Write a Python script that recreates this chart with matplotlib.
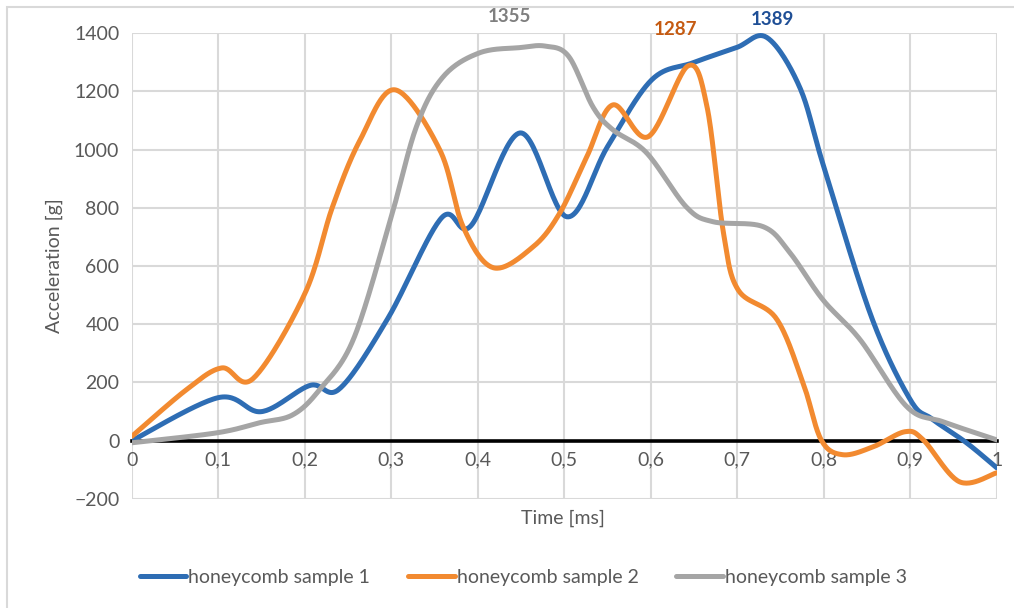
import numpy as np
import matplotlib.pyplot as plt
from matplotlib.patches import Rectangle

# (time in ms, acceleration in g)
t1 = [0, 0.1, 0.15, 0.206, 0.24, 0.296, 0.358, 0.392, 0.449, 0.503, 0.55, 0.601, 0.649,
      0.699, 0.734, 0.772, 0.8, 0.855, 0.9, 0.925, 0.965, 1.0]
a1 = [0, 148, 100, 190, 178, 420, 765, 738, 1057, 769, 1010, 1239, 1298,
      1350, 1385, 1215, 941, 426, 141, 75, -7, -93]

t2 = [0, 0.063, 0.104, 0.14, 0.2, 0.232, 0.264, 0.304, 0.356, 0.383, 0.418, 0.464,
      0.495, 0.526, 0.556, 0.597, 0.643, 0.665, 0.684, 0.701, 0.745, 0.776, 0.797,
      0.822, 0.857, 0.894, 0.915, 0.957, 1.0]
a2 = [15, 175, 250, 213, 505, 803, 1033, 1205, 999, 735, 594, 666,
      783, 975, 1153, 1044, 1287, 1147, 714, 518, 420, 199, 3,
      -48, -21, 31, 3, -141, -110]

t3 = [0, 0.098, 0.148, 0.186, 0.217, 0.256, 0.298, 0.329, 0.36, 0.402, 0.449, 0.478, 0.505,
      0.533, 0.556, 0.595, 0.641, 0.672, 0.73, 0.761, 0.799, 0.842, 0.896, 0.938, 1.0]
a3 = [-7, 27, 62, 89, 175, 347, 748, 1078, 1250, 1332, 1350, 1355, 1320,
      1147, 1068, 989, 803, 752, 735, 645, 484, 347, 117, 65, 3]

names = ['honeycomb sample 1', 'honeycomb sample 2', 'honeycomb sample 3']
colors = ['#2E6DB4', '#F28A30', '#A5A5A5']
label_colors = ['#1F4F96', '#C55A11', '#7F7F7F']
peaks = [1389, 1287, 1355]


def smooth(x, y, n=30):
    # excel style smoothed line: bezier with control points at 1/6 of neighbour span
    p = np.column_stack([x, y]).astype(float)
    p = np.vstack([p[0], p, p[-1]])
    out = []
    s = np.linspace(0, 1, n)[:, None]
    for i in range(1, len(p) - 2):
        p0, p1, p2, p3 = p[i - 1], p[i], p[i + 1], p[i + 2]
        b1 = p1 + (p2 - p0) / 6
        b2 = p2 - (p3 - p1) / 6
        seg = ((1 - s) ** 3) * p1 + 3 * ((1 - s) ** 2) * s * b1 + 3 * (1 - s) * s ** 2 * b2 + s ** 3 * p2
        out.append(seg)
    out = np.vstack(out)
    return out[:, 0], out[:, 1]


plt.rcParams['font.family'] = ['Lato', 'DejaVu Sans']

fig = plt.figure(figsize=(10.14, 6.08), dpi=100)
ax = fig.add_axes([0.130, 0.1793, 0.853, 0.7664])

fig.patches.append(Rectangle((0.007, -0.05), 1.1, 0.05 + 1 - 0.012, transform=fig.transFigure,
                             fill=False, edgecolor='#D9D9D9', linewidth=1.5))

lines = []
for t, a, c, name in zip([t1, t2, t3], [a1, a2, a3], colors, names):
    xs, ys = smooth(t, a)
    ln, = ax.plot(xs, ys, color=c, lw=3.6, label=name, solid_capstyle='round', zorder=3)
    lines.append(ln)

ax.set_xlim(0, 1)
ax.set_ylim(-200, 1400)
ax.set_xticks(np.arange(0, 1.01, 0.1))
ax.set_xticklabels(['0', '0,1', '0,2', '0,3', '0,4', '0,5', '0,6', '0,7', '0,8', '0,9', '1'])
ax.set_yticks(np.arange(-200, 1401, 200))
ax.grid(True, color='#D9D9D9', lw=1.5)
ax.set_axisbelow(True)

for s in ['top', 'left', 'right']:
    ax.spines[s].set_visible(False)
ax.spines['bottom'].set_position(('data', 0))
ax.spines['bottom'].set_color('black')
ax.spines['bottom'].set_linewidth(2.6)
ax.spines['bottom'].set_zorder(2.5)
ax.tick_params(axis='both', length=0, labelsize=14, labelcolor='#595959')
ax.tick_params(axis='x', pad=8)
ax.tick_params(axis='y', pad=9)

ax.set_ylabel('Acceleration [g]', fontsize=14, color='#595959', labelpad=8)
fig.text(0.555, 0.147, 'Time [ms]', fontsize=14, color='#595959', ha='center', va='center')

# peak labels
ax.annotate(str(peaks[0]), (0.741, 1389), xytext=(0, 6), textcoords='offset points',
            ha='center', va='bottom', fontsize=13.5, fontweight='bold', color=label_colors[0])
ax.annotate(str(peaks[1]), (0.628, 1287), xytext=(0, 20), textcoords='offset points',
            ha='center', va='bottom', fontsize=13.5, fontweight='bold', color=label_colors[1])
ax.annotate(str(peaks[2]), (0.437, 1355), xytext=(0, 15), textcoords='offset points',
            ha='center', va='bottom', fontsize=13.5, fontweight='bold', color=label_colors[2])

fig.legend(handles=lines, loc='center', bbox_to_anchor=(0.516, 0.05), ncol=3, frameon=False,
           fontsize=14, labelcolor='#595959', handlelength=2.4, handletextpad=0.1,
           columnspacing=1.95)

fig.savefig('out.png', dpi=100)
